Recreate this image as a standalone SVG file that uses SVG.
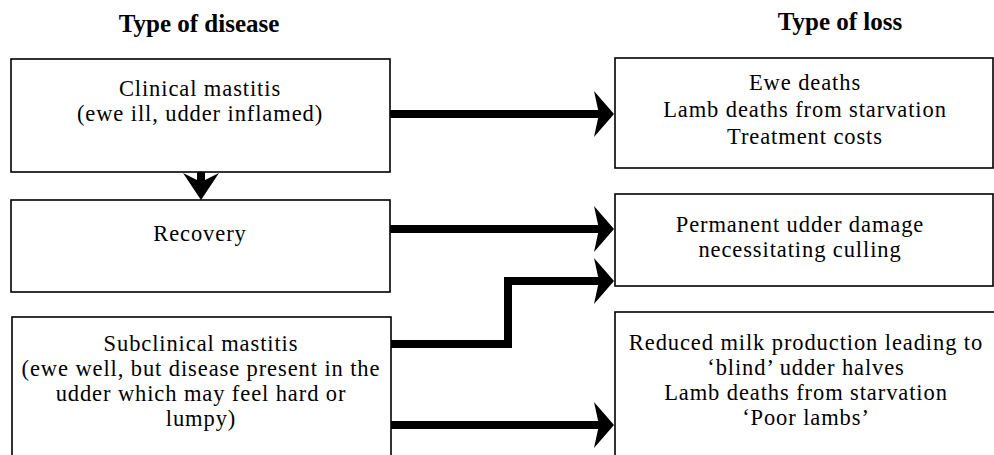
<svg xmlns="http://www.w3.org/2000/svg" width="994" height="455" viewBox="0 0 994 455">
<style>
  .box { fill: #fff; stroke: #000; stroke-width: 1.6; }
  .t { font-family: "Liberation Serif", "Times New Roman", serif; font-size: 22.5px; letter-spacing: 0.9px; fill: #000; text-anchor: middle; }
  .h { font-family: "Liberation Serif", "Times New Roman", serif; font-size: 25px; font-weight: bold; fill: #000; text-anchor: middle; }
  .shaft { fill: none; stroke: #000; stroke-width: 8; stroke-linejoin: miter; }
</style>
<defs>
  <marker id="ah" markerUnits="userSpaceOnUse" viewBox="0 0 22 48" refX="11" refY="24" markerWidth="22" markerHeight="48" orient="auto">
    <path d="M21,24 L1,1 L6,24 L1,47 Z" fill="#000"/>
  </marker>
</defs>
<rect width="994" height="455" fill="#fff"/>

<g id="header-disease"><text class="h" x="199" y="32">Type of disease</text></g>
<g id="header-loss"><text class="h" x="840" y="30">Type of loss</text></g>

<g id="clinical">
  <rect class="box" x="11" y="59" width="379" height="113"/>
  <text class="t" x="200" y="96">Clinical mastitis</text>
  <text class="t" x="200" y="121">(ewe ill, udder inflamed)</text>
</g>
<g id="recovery">
  <rect class="box" x="11" y="200" width="379" height="92"/>
  <text class="t" x="200" y="241">Recovery</text>
</g>
<g id="subclinical">
  <rect class="box" x="12" y="317" width="379" height="160"/>
  <text class="t" x="201" y="351">Subclinical mastitis</text>
  <text class="t" x="201" y="376">(ewe well, but disease present in the</text>
  <text class="t" x="201" y="401">udder which may feel hard or</text>
  <text class="t" x="201" y="426">lumpy)</text>
</g>

<g id="loss1">
  <rect class="box" x="615" y="58" width="378" height="110"/>
  <text class="t" x="805" y="90">Ewe deaths</text>
  <text class="t" x="805" y="117">Lamb deaths from starvation</text>
  <text class="t" x="805" y="144">Treatment costs</text>
</g>
<g id="loss2">
  <rect class="box" x="615" y="194" width="378" height="92"/>
  <text class="t" x="800" y="232">Permanent udder damage</text>
  <text class="t" x="800" y="257">necessitating culling</text>
</g>
<g id="loss3">
  <rect class="box" x="615" y="312" width="400" height="170"/>
  <text class="t" x="806" y="350">Reduced milk production leading to</text>
  <text class="t" x="806" y="375">‘blind’ udder halves</text>
  <text class="t" x="806" y="400">Lamb deaths from starvation</text>
  <text class="t" x="806" y="425">‘Poor lambs’</text>
</g>

<g id="connectors">
  <path class="shaft" d="M390,114 L604,114" marker-end="url(#ah)"/>
  <path class="shaft" d="M390,229 L604,229" marker-end="url(#ah)"/>
  <path class="shaft" d="M391,344 L508,344 L508,281 L604,281" marker-end="url(#ah)"/>
  <path class="shaft" d="M391,425 L604,425" marker-end="url(#ah)"/>
  <path class="shaft" d="M201,172 L201,184"/>
  <path d="M183,173 L201,182 L219,173 L201,200 Z" fill="#000"/>
</g>
</svg>
